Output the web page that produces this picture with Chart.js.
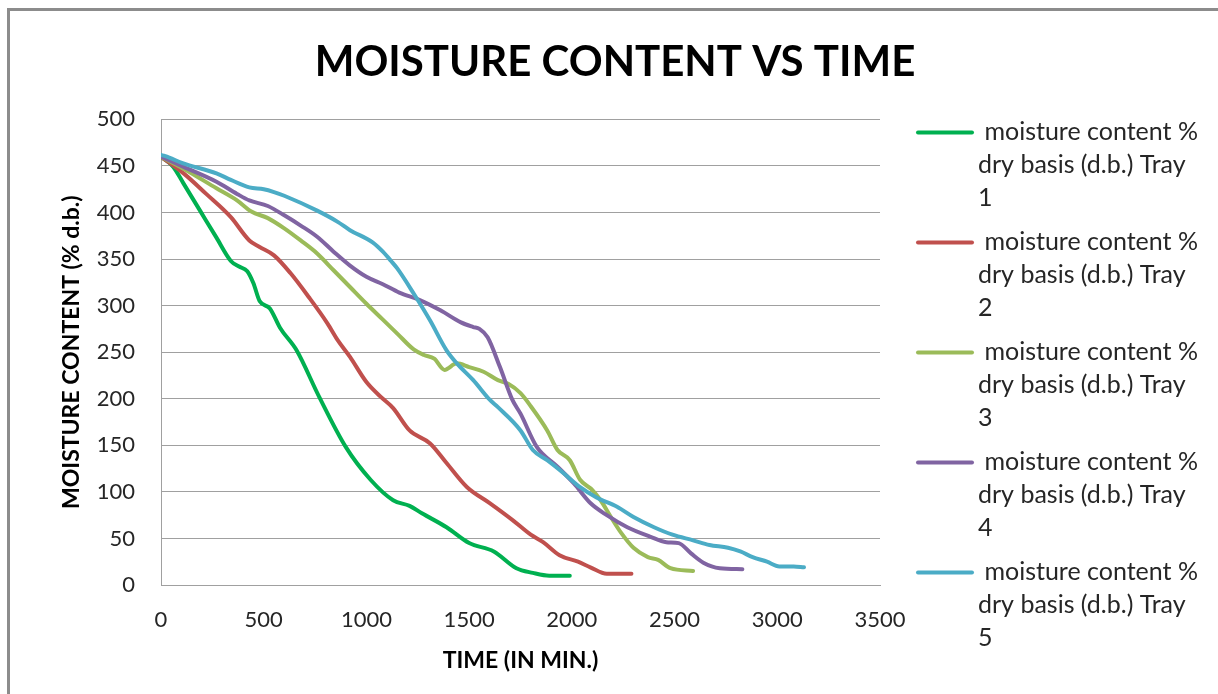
<!DOCTYPE html>
<html>
<head>
<meta charset="utf-8">
<title>Moisture content vs time</title>
<script src="https://cdn.jsdelivr.net/npm/chart.js@4.4.1/dist/chart.umd.min.js"></script>
<style>
    html, body { margin: 0; padding: 0; background: #fff; }
    #wrap { position: relative; width: 1218px; height: 694px; overflow: hidden; }
    #frame { position: absolute; left: 7px; top: 8px; width: 1300px; height: 800px;
             border-left: 3px solid #8c8c8c; border-top: 3px solid #8c8c8c; }
    #moistureChart { position: absolute; left: 0; top: 0; }
</style>
</head>
<body>
<div id="wrap">
    <div id="frame"></div>
    <canvas id="moistureChart" width="1218" height="694"></canvas>
</div>
<script>
// Drying time (min) and moisture content (% d.b.) per tray
const tray1Time = [0, 60, 110, 190, 270, 340, 380, 420, 450, 480, 530, 580, 660, 770, 900, 1020, 1130, 1210, 1270, 1390, 1500, 1620, 1730, 1810, 1890, 1990];
const tray1MC   = [460, 449, 431, 402, 373, 348, 342, 337, 324, 305, 297, 276, 252, 202, 148, 113, 91, 85, 77, 62, 45, 36, 18, 13, 10, 10];

const tray2Time = [0, 110, 220, 340, 430, 480, 550, 630, 720, 810, 860, 920, 1000, 1070, 1130, 1210, 1310, 1390, 1490, 1600, 1710, 1800, 1860, 1940, 2030, 2090, 2170, 2290];
const tray2MC   = [460, 442, 420, 395, 370, 363, 354, 335, 309, 281, 263, 245, 218, 202, 190, 166, 152, 131, 105, 88, 70, 54, 46, 32, 25, 19, 12, 12];

const tray3Time = [0, 110, 270, 370, 440, 520, 600, 680, 760, 840, 920, 1000, 1080, 1150, 1230, 1280, 1330, 1380, 1440, 1500, 1570, 1640, 1690, 1750, 1800, 1880, 1930, 1990, 2040, 2100, 2140, 2190, 2240, 2300, 2370, 2420, 2480, 2590];
const tray3MC   = [460, 447, 426, 413, 401, 394, 383, 370, 356, 338, 320, 302, 285, 270, 253, 247, 243, 231, 238, 234, 229, 220, 216, 206, 192, 166, 145, 134, 113, 102, 91, 73, 56, 40, 30, 27, 18, 15];

const tray4Time = [0, 110, 270, 370, 430, 520, 600, 680, 760, 840, 920, 1000, 1080, 1160, 1260, 1360, 1460, 1520, 1550, 1590, 1650, 1710, 1750, 1830, 1930, 2010, 2090, 2170, 2270, 2380, 2460, 2520, 2580, 2640, 2720, 2830];
const tray4MC   = [460, 449, 433, 420, 413, 407, 397, 386, 374, 358, 343, 331, 323, 314, 306, 295, 282, 277, 275, 266, 234, 199, 184, 148, 127, 109, 88, 75, 62, 52, 46, 45, 34, 24, 18, 17];

const tray5Time = [0, 40, 105, 270, 340, 430, 500, 550, 600, 760, 860, 920, 1030, 1080, 1120, 1150, 1230, 1310, 1390, 1440, 1520, 1600, 1640, 1750, 1810, 1880, 1960, 2040, 2120, 2220, 2300, 2400, 2490, 2590, 2670, 2760, 2820, 2880, 2950, 3010, 3080, 3130];
const tray5MC   = [462, 459, 453, 442, 435, 427, 425, 422, 418, 402, 390, 381, 368, 358, 348, 340, 313, 284, 252, 238, 220, 199, 191, 166, 145, 134, 120, 105, 94, 84, 73, 62, 54, 48, 43, 40, 36, 30, 25, 20, 20, 19];

const seriesNames = [
    'moisture content % dry basis (d.b.) Tray 1',
    'moisture content % dry basis (d.b.) Tray 2',
    'moisture content % dry basis (d.b.) Tray 3',
    'moisture content % dry basis (d.b.) Tray 4',
    'moisture content % dry basis (d.b.) Tray 5'
];
const seriesColors = ['#00b050', '#c0504d', '#9bbb59', '#8064a2', '#4bacc6'];

const xTicks = [0, 500, 1000, 1500, 2000, 2500, 3000, 3500];
const yTicks = [0, 50, 100, 150, 200, 250, 300, 350, 400, 450, 500];

const FONT = 'Lato, "Open Sans", sans-serif';
const GRID = '#a0a0a0';

const allTimes = [tray1Time, tray2Time, tray3Time, tray4Time, tray5Time];
const allMC = [tray1MC, tray2MC, tray3MC, tray4MC, tray5MC];

const datasets = seriesNames.map((name, i) => ({
    label: name,
    data: allTimes[i].map((t, k) => ({ x: t, y: allMC[i][k] })),
    borderColor: seriesColors[i],
    backgroundColor: seriesColors[i],
    borderWidth: 4,
    borderCapStyle: 'round',
    borderJoinStyle: 'round',
    pointRadius: 0,
    cubicInterpolationMode: 'monotone',
    fill: false,
    order: seriesNames.length - i   // last tray on top
}));

// breaks a label after the "%" and after "Tray"
function legendLines(label) {
    const m = label.match(/^(.*%) (.*Tray) (.*)$/);
    return m ? [' ' + m[1], m[2], m[3]] : [label];
}

// legend on the right, labels wrapped over several lines
const trayLegend = {
    id: 'trayLegend',
    beforeInit(chart) {
        const box = {
            position: 'right', weight: 100, fullSize: false, options: {},
            left: 0, top: 0, right: 0, bottom: 0, width: 0, height: 0,
            isHorizontal() { return false; },
            update(maxWidth, maxHeight) {
                this.width = 338;
                this.height = maxHeight;
            },
            draw() {
                const ctx = chart.ctx;
                const lineStep = 33;
                ctx.save();
                ctx.font = '25px ' + FONT;
                ctx.textBaseline = 'middle';
                ctx.textAlign = 'left';
                let y = chart.chartArea.top + 13;
                chart.data.datasets.forEach(ds => {
                    ctx.strokeStyle = ds.borderColor;
                    ctx.lineWidth = 4;
                    ctx.lineCap = 'round';
                    ctx.beginPath();
                    ctx.moveTo(this.left + 38, y);
                    ctx.lineTo(this.left + 92, y);
                    ctx.stroke();
                    ctx.fillStyle = '#262626';
                    const lines = legendLines(ds.label);
                    lines.forEach((ln, k) => ctx.fillText(ln, this.left + 98, y + k * lineStep));
                    y += lines.length * lineStep + 11;
                });
                ctx.restore();
            }
        };
        Chart.layouts.addBox(chart, box);
    }
};

new Chart(document.getElementById('moistureChart'), {
    type: 'line',
    data: { datasets: datasets },
    plugins: [trayLegend],
    options: {
        responsive: false,
        animation: false,
        events: [],
        layout: { padding: { left: 12, top: 0, right: 0, bottom: 0 } },
        plugins: {
            legend: { display: false },
            tooltip: { enabled: false },
            title: {
                display: true,
                text: 'MOISTURE CONTENT VS TIME',
                color: '#000',
                font: { family: FONT, size: 42, weight: 'bold' },
                padding: { top: 37, bottom: 32 }
            }
        },
        scales: {
            x: {
                type: 'linear',
                min: 0,
                max: 3500,
                afterBuildTicks: scale => { scale.ticks = xTicks.map(v => ({ value: v })); },
                afterFit: scale => { scale.height = 109; },
                ticks: {
                    color: '#262626',
                    padding: 22,
                    maxRotation: 0,
                    font: { family: FONT, size: 22 },
                    callback: v => String(v)
                },
                grid: { display: false, drawTicks: false },
                border: { display: true, color: GRID, width: 1 },
                title: {
                    display: true,
                    text: 'TIME (IN MIN.)',
                    color: '#000',
                    font: { family: FONT, size: 23, weight: 'bold' },
                    padding: { top: 0, bottom: 20 }
                }
            },
            y: {
                min: 0,
                max: 500,
                afterBuildTicks: scale => { scale.ticks = yTicks.map(v => ({ value: v })); },
                afterFit: scale => { scale.width = 149; },
                ticks: {
                    color: '#262626',
                    padding: 26,
                    font: { family: FONT, size: 22 },
                    callback: v => String(v)
                },
                grid: { color: GRID, lineWidth: 1, drawTicks: false },
                border: { display: true, color: GRID, width: 1 },
                title: {
                    display: true,
                    text: 'MOISTURE CONTENT (% d.b.)',
                    color: '#000',
                    font: { family: FONT, size: 23, weight: 'bold' },
                    padding: { top: 46, bottom: 0 }
                }
            }
        }
    }
});
</script>
</body>
</html>
